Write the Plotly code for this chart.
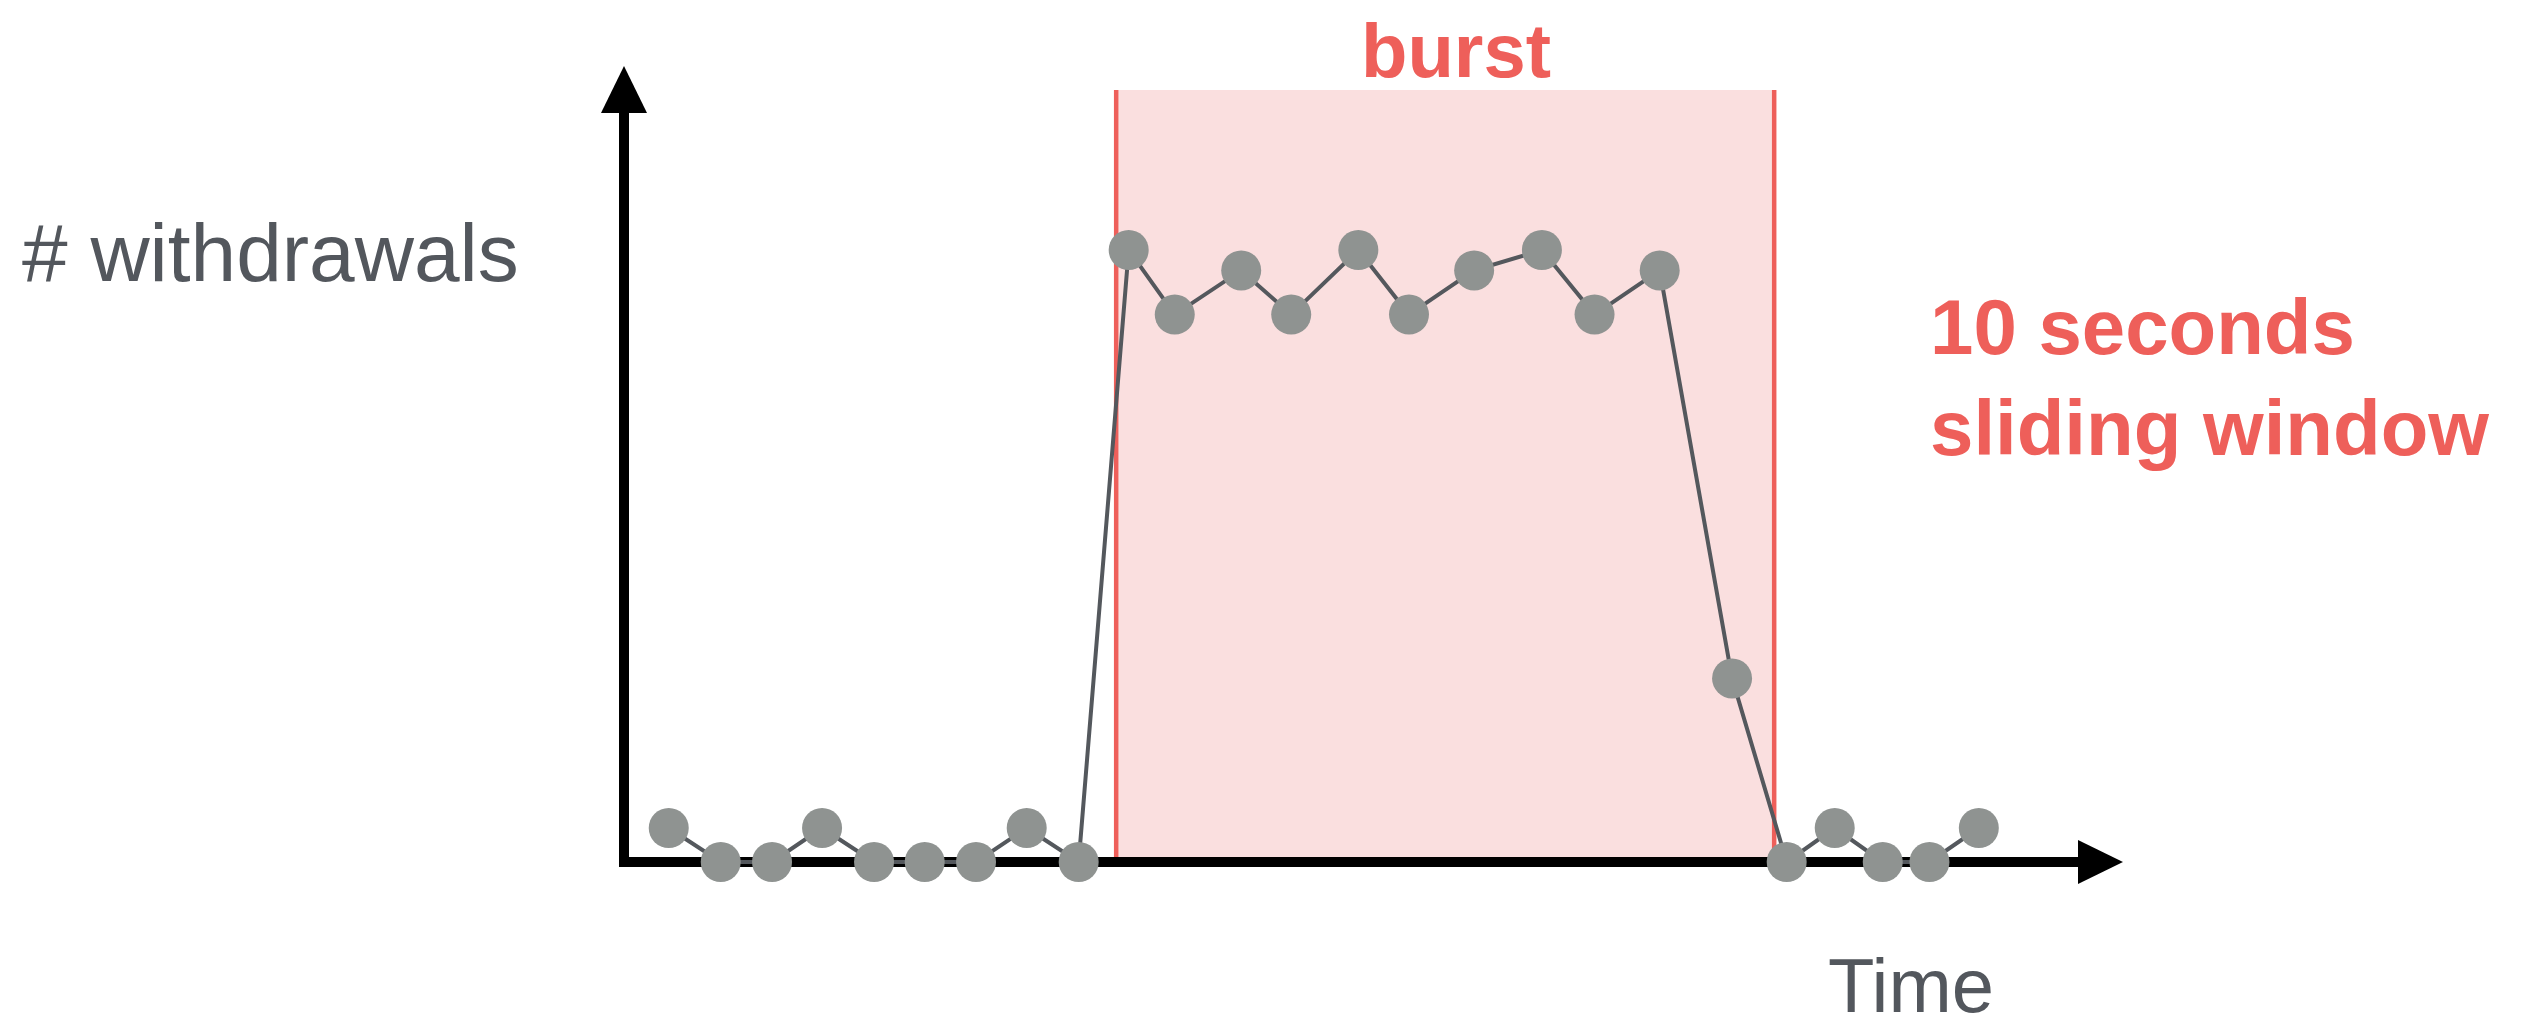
import plotly.graph_objects as go

# ---------------- data ----------------
time_s = [0.68, 1.47, 2.25, 3.01, 3.80, 4.57, 5.35, 6.12, 6.91,
          7.67, 8.37, 9.38, 10.14, 11.16, 11.93, 12.92, 13.95, 14.75, 15.74,
          16.84, 17.67, 18.40, 19.13, 19.84, 20.59]
withdrawals = [1, 0, 0, 1, 0, 0, 0, 1, 0,
               18, 16.1, 17.4, 16.1, 18, 16.1, 17.4, 18, 16.1, 17.4,
               5.4, 0, 1, 0, 0, 1]
burst_start = 7.48
burst_len = 10.0
burst_end = burst_start + burst_len

y_label = "# withdrawals"
x_label = "Time"
burst_label = "burst"
window_label = "10 seconds<br>sliding window"

# ---------------- layout constants (pixels) ----------------
W, H = 2536, 1033
OX, OY = 624, 862          # origin in page pixels
PX_S = 65.8                # pixels per second
PX_U = 34.0                # pixels per withdrawal unit

def tx(px):   # page px -> data x
    return (px - OX) / PX_S

def ty(py):   # page py -> data y
    return (OY - py) / PX_U

RED = "#ee5f5a"
PINK = "#fadfdf"
GREY_TXT = "#53575d"
LINE = "#54585d"
MARK = "#8f9391"

fig = go.Figure()
fig.add_trace(go.Scatter(
    x=time_s, y=withdrawals, mode="lines+markers",
    line=dict(color=LINE, width=4),
    marker=dict(size=40, color=MARK, line=dict(width=0)),
    hoverinfo="skip", showlegend=False,
))

shapes = []
top = ty(90)
# burst window
shapes.append(dict(type="rect", xref="x", yref="y", x0=burst_start, x1=burst_end,
                   y0=0, y1=top, fillcolor=PINK, line=dict(width=0), layer="below"))
for xv in (burst_start, burst_end):
    shapes.append(dict(type="line", xref="x", yref="y", x0=xv, x1=xv, y0=0, y1=top,
                       line=dict(color=RED, width=4.5), layer="below"))
# axes
shapes.append(dict(type="line", xref="x", yref="y", x0=0, x1=0, y0=ty(OY + 5), y1=ty(110),
                   line=dict(color="black", width=10), layer="below"))
shapes.append(dict(type="line", xref="x", yref="y", x0=tx(OX - 5), x1=tx(2080), y0=0, y1=0,
                   line=dict(color="black", width=10), layer="below"))
# arrow heads
ah_y = f"M {tx(OX-23)},{ty(113)} L {tx(OX+23)},{ty(113)} L {tx(OX)},{ty(66)} Z"
ah_x = f"M {tx(2078)},{ty(OY-22)} L {tx(2078)},{ty(OY+22)} L {tx(2123)},{ty(OY)} Z"
for p in (ah_y, ah_x):
    shapes.append(dict(type="path", xref="x", yref="y", path=p, fillcolor="black",
                       line=dict(width=0), layer="below"))

FS = 78
annotations = [
    dict(x=tx(1456), y=ty(50), text=f"<b>{burst_label}</b>", showarrow=False,
         xanchor="center", yanchor="middle", borderpad=0,
         font=dict(family="Liberation Sans, Arial", size=76, color=RED)),
    dict(x=tx(1928), y=ty(377), text=f"<b>{window_label}</b>", showarrow=False,
         xanchor="left", yanchor="middle", align="left",
         font=dict(family="Liberation Sans, Arial", size=FS, color=RED)),
    dict(x=tx(20), y=ty(252), text=y_label, showarrow=False,
         xanchor="left", yanchor="middle",
         font=dict(family="Liberation Sans, Arial", size=82, color=GREY_TXT)),
    dict(x=tx(1827), y=ty(985), text=x_label, showarrow=False,
         xanchor="left", yanchor="middle", borderpad=0,
         font=dict(family="Liberation Sans, Arial", size=76, color=GREY_TXT)),
]

fig.update_layout(
    width=W, height=H, autosize=False,
    margin=dict(l=0, r=0, t=0, b=0, pad=0),
    paper_bgcolor="white", plot_bgcolor="white",
    xaxis=dict(range=[tx(0), tx(W)], visible=False, fixedrange=True),
    yaxis=dict(range=[ty(H), ty(0)], visible=False, fixedrange=True),
    shapes=shapes, annotations=annotations, showlegend=False,
)

fig.write_html("out.html", config={"displayModeBar": False})
